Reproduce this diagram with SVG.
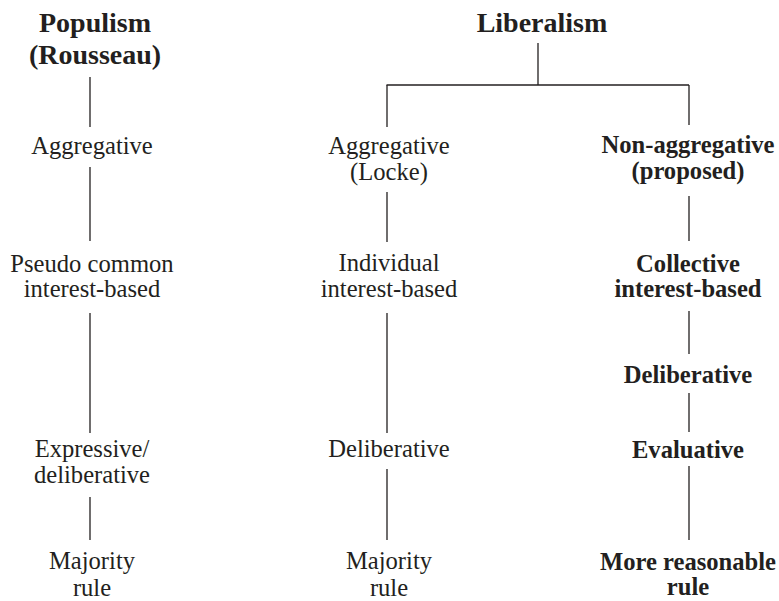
<svg xmlns="http://www.w3.org/2000/svg" width="779" height="601" viewBox="0 0 779 601">
<style>
text{font-family:"Liberation Serif","Times New Roman",serif;fill:#231f20;text-anchor:middle}
.h{font-size:28px;font-weight:bold}
.r{font-size:24.6px}
.b{font-size:24.6px;font-weight:bold}
#connectors line{stroke:#231f20;stroke-width:1.3;fill:none}
</style>
<rect width="779" height="601" fill="#fff"/>
<g id="connectors">
<line x1="90" y1="77" x2="90" y2="127"/>
<line x1="90" y1="167" x2="90" y2="241"/>
<line x1="90" y1="313" x2="90" y2="433"/>
<line x1="90" y1="497" x2="90" y2="540"/>
<line x1="538" y1="43" x2="538" y2="85"/>
<line x1="386.5" y1="85" x2="689" y2="85"/>
<line x1="387" y1="85" x2="387" y2="127"/>
<line x1="689" y1="85" x2="689" y2="125"/>
<line x1="387" y1="192" x2="387" y2="242"/>
<line x1="387" y1="313" x2="387" y2="433"/>
<line x1="387" y1="469" x2="387" y2="540"/>
<line x1="689" y1="196" x2="689" y2="241"/>
<line x1="689" y1="311" x2="689" y2="354"/>
<line x1="689" y1="393" x2="689" y2="432"/>
<line x1="689" y1="466" x2="689" y2="540"/>
</g>
<g id="populism">
<text class="h" x="95" y="32">Populism</text>
<text class="h" x="95" y="64">(Rousseau)</text>
</g>
<g id="pop-aggregative">
<text class="r" x="92" y="153.5">Aggregative</text>
</g>
<g id="pop-pseudo">
<text class="r" x="92" y="271.5">Pseudo common</text>
<text class="r" x="92" y="296.5">interest-based</text>
</g>
<g id="pop-expressive">
<text class="r" x="92" y="456.5">Expressive/</text>
<text class="r" x="92" y="483">deliberative</text>
</g>
<g id="pop-majority">
<text class="r" x="92" y="569">Majority</text>
<text class="r" x="92" y="596">rule</text>
</g>
<g id="liberalism">
<text class="h" x="542" y="32">Liberalism</text>
</g>
<g id="lib-aggregative">
<text class="r" x="389" y="153.5">Aggregative</text>
<text class="r" x="389" y="180">(Locke)</text>
</g>
<g id="lib-individual">
<text class="r" x="389" y="271">Individual</text>
<text class="r" x="389" y="296.5">interest-based</text>
</g>
<g id="lib-deliberative">
<text class="r" x="389" y="456.5">Deliberative</text>
</g>
<g id="lib-majority">
<text class="r" x="389" y="569">Majority</text>
<text class="r" x="389" y="596">rule</text>
</g>
<g id="nonaggregative">
<text class="b" x="688" y="153">Non-aggregative</text>
<text class="b" x="688" y="179">(proposed)</text>
</g>
<g id="collective">
<text class="b" x="688" y="271.5">Collective</text>
<text class="b" x="688" y="296.5">interest-based</text>
</g>
<g id="deliberative-proposed">
<text class="b" x="688" y="383">Deliberative</text>
</g>
<g id="evaluative">
<text class="b" x="688" y="457.5">Evaluative</text>
</g>
<g id="more-reasonable">
<text class="b" x="688" y="569.5">More reasonable</text>
<text class="b" x="688" y="595">rule</text>
</g>
</svg>
